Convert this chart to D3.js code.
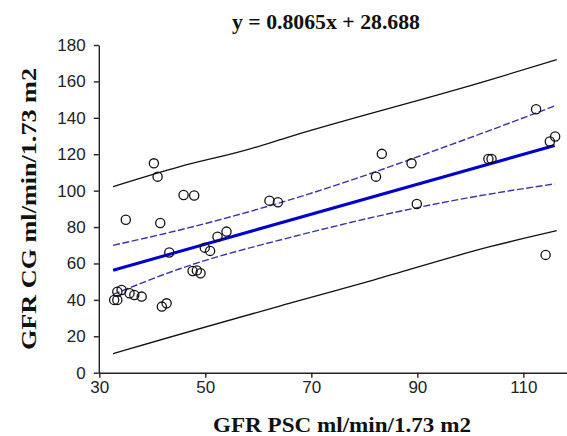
<!DOCTYPE html>
<html><head><meta charset="utf-8">
<script src="https://cdn.jsdelivr.net/npm/d3@7"></script>
<style>body{margin:0;background:#fff}svg{display:block}</style>
</head><body>
<svg id="c" width="567" height="436"></svg>
<script>
// data
const pointX = [32.8,33.4,33.4,34.2,35.7,36.6,38,35,40.3,41,41.5,41.8,42.7,43.2,45.9,47.9,47.6,48.4,49.1,49.9,50.9,52.3,54,62.1,63.7,82.2,83.3,88.9,89.9,103.4,104,112.4,114.2,115,116];
const pointY = [40,40,44.5,45.4,43.6,42.7,41.8,84,115,107.7,82.2,36.3,38.1,66,97.6,97.3,55.9,56.2,54.6,68.7,66.9,74.7,77.5,94.5,93.6,107.7,120.2,115,92.7,117.4,117.4,144.7,64.7,127,129.7];
const fitX = [32.6, 115.9];
const fitY = [56.3, 124.8];
const ciUpX = [32.6,45.2,67.9,98,115.9];
const ciUpY = [70,78.4,96.7,127,146.5];
const ciLoX = [32.6,45.2,67.9,98.5,115.9];
const ciLoY = [43,57.1,75.7,95.5,103.7];
const piUpX = [32.6,45.2,57.8,66,103.7,116.3];
const piUpY = [102.2,113.2,122.4,129.7,160.8,172];
const piLoX = [32.6,35.5,67,81.7,103.7,116.3];
const piLoY = [10.4,12.9,39,50.9,69.2,78];
const xTicks = [30,50,70,90,110];
const yTicks = [0,20,40,60,80,100,120,140,160,180];
const title = "y = 0.8065x + 28.688";
const xLabel = "GFR PSC ml/min/1.73 m2";
const yLabel = "GFR CG ml/min/1.73 m2";

const svg = d3.select("#c");
const x = d3.scaleLinear().domain([30,118.5]).range([99.3,568.4]);
const y = d3.scaleLinear().domain([0,180]).range([372.7,45]);

const xa = svg.append("g").attr("transform","translate(0,372.7)")
  .call(d3.axisBottom(x).tickValues(xTicks).tickSize(5).tickSizeOuter(0).tickFormat(d3.format("d")));
const ya = svg.append("g").attr("transform","translate(98.8,0)")
  .call(d3.axisLeft(y).tickValues(yTicks).tickSize(5).tickSizeOuter(0).tickFormat(d3.format("d")));
[xa,ya].forEach(a=>{
  a.selectAll("path,line").attr("stroke","#222").attr("stroke-width",1.4);
  a.selectAll("text").attr("font-family","Liberation Sans, Arial, sans-serif").attr("font-size",17).attr("fill","#222");
});
xa.selectAll("text").attr("dy","0.71em");
ya.selectAll("text").attr("dx","-0.3em");

const line = d3.line().x(d=>x(d[0])).y(d=>y(d[1])).curve(d3.curveMonotoneX);
const z = (a,b)=>a.map((v,i)=>[v,b[i]]);

svg.append("path").attr("d",line(z(piUpX,piUpY))).attr("fill","none").attr("stroke","#111").attr("stroke-width",1.3);
svg.append("path").attr("d",line(z(piLoX,piLoY))).attr("fill","none").attr("stroke","#111").attr("stroke-width",1.3);
svg.append("path").attr("d",line(z(ciUpX,ciUpY))).attr("fill","none").attr("stroke","#3535a8").attr("stroke-width",1.4).attr("stroke-dasharray","7,2.5");
svg.append("path").attr("d",line(z(ciLoX,ciLoY))).attr("fill","none").attr("stroke","#3535a8").attr("stroke-width",1.4).attr("stroke-dasharray","7,2.5");
svg.append("path").attr("d",line(z(fitX,fitY))).attr("fill","none").attr("stroke","#0000cc").attr("stroke-width",3);

svg.append("g").selectAll("circle").data(z(pointX,pointY)).join("circle")
  .attr("cx",d=>x(d[0])).attr("cy",d=>y(d[1])).attr("r",4.6)
  .attr("fill","none").attr("stroke","#111").attr("stroke-width",1.3);

svg.append("text").attr("x",326).attr("y",29).attr("text-anchor","middle")
  .attr("textLength",188).attr("lengthAdjust","spacingAndGlyphs")
  .attr("font-family","Liberation Serif, Times New Roman, serif").attr("font-weight","bold").attr("font-size",20).attr("fill","#111").text(title);
svg.append("text").attr("x",342).attr("y",432).attr("text-anchor","middle")
  .attr("textLength",258).attr("lengthAdjust","spacingAndGlyphs")
  .attr("font-family","Liberation Serif, Times New Roman, serif").attr("font-weight","bold").attr("font-size",21).attr("fill","#111").text(xLabel);
svg.append("text").attr("transform","translate(36,209) rotate(-90)").attr("text-anchor","middle")
  .attr("textLength",282).attr("lengthAdjust","spacingAndGlyphs")
  .attr("font-family","Liberation Serif, Times New Roman, serif").attr("font-weight","bold").attr("font-size",21).attr("fill","#111").text(yLabel);
</script>
</body></html>
